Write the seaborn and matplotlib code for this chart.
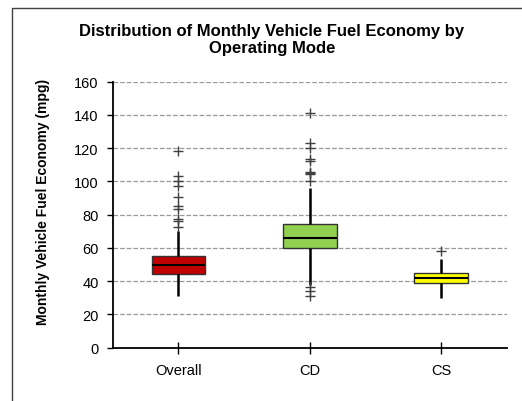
import seaborn as sns
import matplotlib.pyplot as plt
import matplotlib as mpl
from matplotlib.patches import Rectangle
import pandas as pd

# monthly fuel economy samples (mpg)
overall = [31.3, 35.0, 37.0, 38.5, 39.5, 40.5, 41.0, 42.0, 42.5, 43.0, 43.8,
           44.3, 45.0, 45.6, 46.2, 46.8, 47.3, 47.8, 48.3, 48.8, 49.2, 49.6,
           49.9, 50.3, 50.8, 51.3, 51.8, 52.3, 52.8, 53.3, 53.8, 54.2, 54.6,
           55.0, 70.4, 72.4, 76.4, 77.4, 83.4, 85.4, 90.8, 97.5, 100.5, 103.1, 118.3]
cd = [31.3, 34.3, 36.3, 38.0, 42.0, 46.0, 50.0, 53.0, 56.0, 58.0,
      59.8, 60.5, 61.2, 61.9, 62.6, 63.3, 64.0, 64.6, 65.1, 65.6,
      66.0, 66.8, 67.6, 68.4, 69.2, 70.0, 70.8, 71.6, 72.6, 73.6,
      74.6, 96.1, 100.5, 104.5, 105.0, 105.5, 112.0, 113.5, 120.0, 123.1, 141.2]
cs = [29.8, 35.0, 38.7, 40.3, 41.9, 43.4, 44.9, 53.4, 58.4]

modes = ['Overall', 'CD', 'CS']
colors = ['#C00000', '#92D050', '#FFFF00']

df = pd.DataFrame({
    'mode': ['Overall'] * len(overall) + ['CD'] * len(cd) + ['CS'] * len(cs),
    'mpg': overall + cd + cs,
})

mpl.rcParams['font.family'] = ['Liberation Sans', 'DejaVu Sans']

fig = plt.figure(figsize=(5.22, 4.02), dpi=100)
ax = fig.add_axes([0.216, 0.1326, 0.755, 0.6617])

sns.boxplot(data=df, x='mode', y='mpg', hue='mode', order=modes, hue_order=modes,
            palette=colors, saturation=1, legend=False, width=0.41, whis=1.5,
            showcaps=False, ax=ax,
            boxprops=dict(edgecolor='#333333', linewidth=1),
            whiskerprops=dict(color='black', linewidth=1.8),
            medianprops=dict(color='black', linewidth=1.5),
            flierprops=dict(marker='+', markeredgecolor='#404040',
                            markersize=7, markeredgewidth=1))

ax.set_xlim(-0.5, 2.5)
ax.set_ylim(0, 160)
ax.set_yticks(range(0, 161, 20))
ax.grid(axis='y', linestyle='--', color='#999999', linewidth=0.9)
ax.set_axisbelow(True)

for s in ['top', 'right']:
    ax.spines[s].set_visible(False)
for s in ['left', 'bottom']:
    ax.spines[s].set_color('black')
    ax.spines[s].set_linewidth(1.3)

ax.tick_params(axis='y', direction='out', length=4, width=1, labelsize=10.5, pad=6)
ax.tick_params(axis='x', direction='inout', length=8, width=1, labelsize=10.5, pad=7)

ax.set_xlabel('')
ax.set_ylabel('Monthly Vehicle Fuel Economy (mpg)', fontsize=10, fontweight='bold')
ax.yaxis.set_label_coords(-0.159, 0.55)

fig.text(272 / 522, 1 - 40 / 402,
         'Distribution of Monthly Vehicle Fuel Economy by\nOperating Mode',
         ha='center', va='center', fontsize=12, fontweight='bold')

fig.patches.append(Rectangle((12 / 522, -0.1), 1.2, 1.1 - 9 / 402,
                             transform=fig.transFigure, fill=False,
                             edgecolor='#404040', linewidth=1))

fig.savefig('out.png', dpi=100)
